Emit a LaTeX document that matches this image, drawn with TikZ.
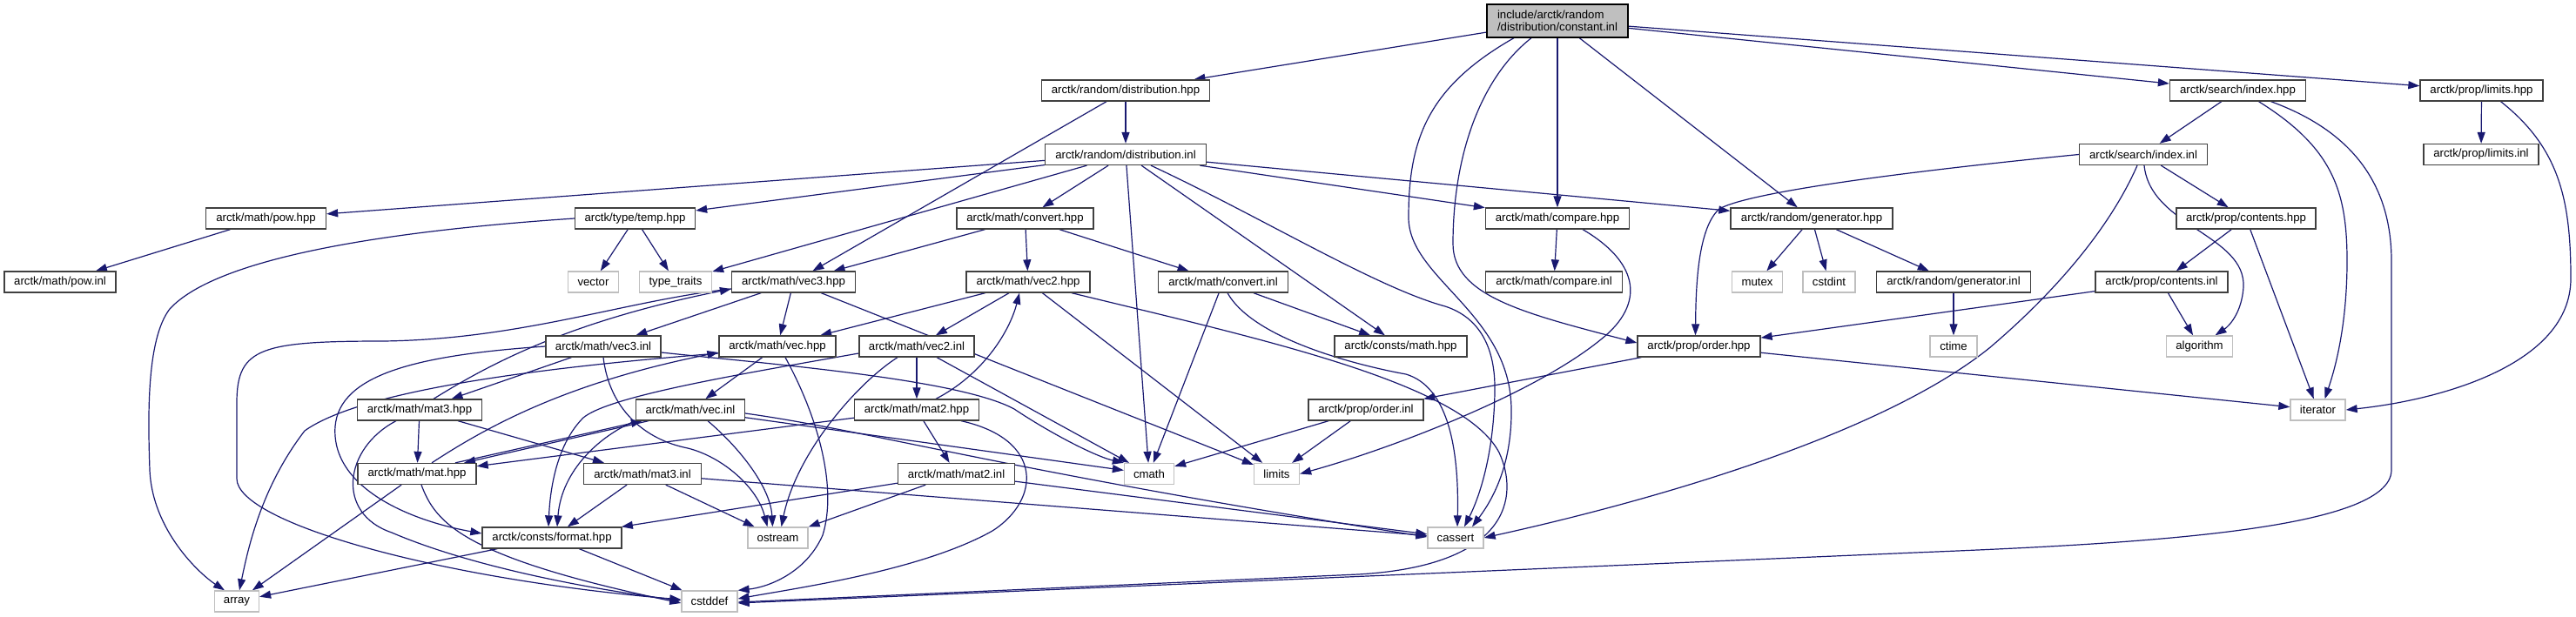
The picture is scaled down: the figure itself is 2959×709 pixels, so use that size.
\documentclass[tikz,border=0pt]{standalone}
\usepackage{fontspec}
\setmainfont{Liberation Sans}
\usetikzlibrary{arrows.meta}
\definecolor{edgec}{HTML}{191970}
\definecolor{gline}{HTML}{BFBFBF}
\definecolor{nline}{HTML}{404040}
\definecolor{rootfill}{HTML}{BFBFBF}
\pgfdeclarelayer{bg}
\pgfsetlayers{bg,main}
\tikzset{
  nb/.style={draw=nline, line width=1.3pt, fill=white, minimum height=24pt, inner sep=0pt,
    font=\fontsize{13.2}{13.6}\selectfont, text=black},
  ng/.style={nb, draw=gline},
  e/.style={draw=edgec, line width=1.2pt, -{Triangle[length=13pt,width=9pt]}},
}
\begin{document}
\begin{tikzpicture}[x=1pt,y=-1pt]
\path[use as bounding box] (0,0) rectangle (2959,709);
% nodes
\node[nb, draw=black, fill=rootfill, minimum width=162pt, minimum height=38pt, align=left] (root) at (1789,24) {include/arctk/random\\/distribution/constant.inl};
\node[nb, minimum width=193pt] (dhpp) at (1293,104) {arctk/random/distribution.hpp};
\node[nb, minimum width=185pt] (dinl) at (1293,177.5) {arctk/random/distribution.inl};
\node[nb, minimum width=156pt] (idxh) at (2570.5,104) {arctk/search/index.hpp};
\node[nb, minimum width=141pt] (limh) at (2850.5,104) {arctk/prop/limits.hpp};
\node[nb, minimum width=147pt] (idxi) at (2462,177.5) {arctk/search/index.inl};
\node[nb, minimum width=132pt] (limi) at (2850,177.5) {arctk/prop/limits.inl};
\node[nb, minimum width=138pt] (pow) at (305.5,251) {arctk/math/pow.hpp};
\node[nb, minimum width=138pt] (temp) at (729.5,251) {arctk/type/temp.hpp};
\node[nb, minimum width=157pt] (conv) at (1177.5,251) {arctk/math/convert.hpp};
\node[nb, minimum width=165pt] (cmph) at (1789,251) {arctk/math/compare.hpp};
\node[nb, minimum width=186pt] (genh) at (2081,251) {arctk/random/generator.hpp};
\node[nb, minimum width=160pt] (conth) at (2580,251) {arctk/prop/contents.hpp};
\node[nb, minimum width=128pt] (powi) at (69,324) {arctk/math/pow.inl};
\node[ng, minimum width=58pt] (vector) at (681.5,324) {vector};
\node[ng, minimum width=83pt] (tt) at (776,324) {type\_traits};
\node[nb, minimum width=142pt] (v3h) at (911.5,324) {arctk/math/vec3.hpp};
\node[nb, minimum width=142pt] (v2h) at (1181,324) {arctk/math/vec2.hpp};
\node[nb, minimum width=149pt] (convi) at (1405,324) {arctk/math/convert.inl};
\node[nb, minimum width=157pt] (cmpi) at (1785,324) {arctk/math/compare.inl};
\node[ng, minimum width=58pt] (mutex) at (2018.5,324) {mutex};
\node[ng, minimum width=60pt] (cstdint) at (2101,324) {cstdint};
\node[nb, minimum width=177pt] (geni) at (2244,324) {arctk/random/generator.inl};
\node[nb, minimum width=152pt] (conti) at (2483,324) {arctk/prop/contents.inl};
\node[nb, minimum width=132pt] (v3i) at (693,398) {arctk/math/vec3.inl};
\node[nb, minimum width=134pt] (vh) at (893,398) {arctk/math/vec.hpp};
\node[nb, minimum width=132pt] (v2i) at (1053,398) {arctk/math/vec2.inl};
\node[nb, minimum width=152pt] (cmh) at (1609,398) {arctk/consts/math.hpp};
\node[nb, minimum width=141pt] (ordh) at (1951.5,398) {arctk/prop/order.hpp};
\node[ng, minimum width=54pt] (ctime) at (2244,398) {ctime};
\node[ng, minimum width=76pt] (algo) at (2526.5,398) {algorithm};
\node[nb, minimum width=143pt] (m3h) at (482,471) {arctk/math/mat3.hpp};
\node[nb, minimum width=125pt] (vi) at (793,471) {arctk/math/vec.inl};
\node[nb, minimum width=143pt] (m2h) at (1053,471) {arctk/math/mat2.hpp};
\node[nb, minimum width=132pt] (ordi) at (1569,471) {arctk/prop/order.inl};
\node[ng, minimum width=63pt] (iter) at (2662.5,471) {iterator};
\node[nb, minimum width=136pt] (mh) at (479,544.5) {arctk/math/mat.hpp};
\node[nb, minimum width=135pt] (m3i) at (738,544.5) {arctk/math/mat3.inl};
\node[nb, minimum width=134pt] (m2i) at (1098.5,544.5) {arctk/math/mat2.inl};
\node[ng, minimum width=57pt] (cmath) at (1320,544.5) {cmath};
\node[ng, minimum width=52pt] (limits) at (1466.5,544.5) {limits};
\node[nb, minimum width=160pt] (fmt) at (634,618) {arctk/consts/format.hpp};
\node[ng, minimum width=69pt] (ostream) at (893.5,618) {ostream};
\node[ng, minimum width=64pt] (cassert) at (1672,618) {cassert};
\node[ng, minimum width=51pt] (array) at (272,691) {array};
\node[ng, minimum width=64pt] (cstddef) at (815,691) {cstddef};

\begin{pgfonlayer}{bg}
\fill[white] (0,0) rectangle (2959,709);
% root
\draw[e] (root) -- (dhpp);
\draw[e] (root) -- (cmph);
\draw[e] (root) -- (genh);
\draw[e] (root) -- (idxh);
\draw[e] (root) -- (limh);
\draw[e] ([xshift=-50pt]root.south) .. controls (1640,100) and (1618,160) .. (1618,250) .. controls (1618,320) and (1735,360) .. (1736,470) .. controls (1737,540) and (1710,580) .. ([xshift=19pt]cassert.north);
\draw[e] ([xshift=-30pt]root.south) .. controls (1700,90) and (1669,180) .. (1669,280) .. controls (1669,340) and (1750,360) .. ([yshift=4pt]ordh.west);
% distribution
\draw[e] (dhpp) -- (dinl);
\draw[e] (dhpp) -- (v3h);
\draw[e] (dinl) -- (pow);
\draw[e] (dinl) -- (temp);
\draw[e] (dinl) -- (tt);
\draw[e] (dinl) -- (conv);
\draw[e] (dinl) -- (cmath);
\draw[e] (dinl) -- (cmh);
\draw[e] (dinl) -- (cmph);
\draw[e] (dinl) -- (genh);
\draw[e] ([xshift=29pt]dinl.south) .. controls (1450,250) and (1580,330) .. (1660,352) .. controls (1700,365) and (1718,400) .. (1717,450) .. controls (1716,520) and (1700,570) .. ([xshift=10pt]cassert.north);
% convert
\draw[e] (conv) -- (v3h);
\draw[e] (conv) -- (v2h);
\draw[e] (conv) -- (convi);
\draw[e] (convi) -- (cmh);
\draw[e] (convi) -- (cmath);
\draw[e] ([xshift=5pt]convi.south) .. controls (1440,390) and (1560,420) .. (1615,430) .. controls (1665,445) and (1676,520) .. ([xshift=2pt]cassert.north);
% compare
\draw[e] (cmph) -- (cmpi);
\draw[e] ([xshift=29pt]cmph.south) .. controls (1880,300) and (1890,345) .. (1845,385) .. controls (1770,450) and (1600,515) .. (limits.east);
% generator
\draw[e] (genh) -- (mutex);
\draw[e] (genh) -- (cstdint);
\draw[e] (genh) -- (geni);
\draw[e] (geni) -- (ctime);
% search / prop
\draw[e] (idxh) -- (idxi);
\draw[e] ([xshift=24pt]idxh.south) .. controls (2680,170) and (2696,220) .. (2696,300) .. controls (2696,380) and (2680,430) .. ([xshift=8pt]iter.north);
\draw[e] ([xshift=38pt]idxh.south) .. controls (2700,150) and (2747,210) .. (2747,300) -- (2747,540) .. controls (2747,610) and (2450,625) .. (2200,635) -- ([yshift=-2pt]cstddef.east);
\draw[e] (limh) -- (limi);
\draw[e] ([xshift=22pt]limh.south) .. controls (2940,170) and (2953,230) .. (2953,320) .. controls (2953,420) and (2800,460) .. (iter.east);
\draw[e] (idxi) -- (conth);
\draw[e] (idxi.west) .. controls (2200,196) and (2010,220) .. (1975,240) .. controls (1950,262) and (1948,330) .. ([xshift=-4pt]ordh.north);
\draw[e] ([xshift=1pt]idxi.south) .. controls (2470,260) and (2580,270) .. (2577,330) .. controls (2575,360) and (2560,375) .. ([xshift=18pt]algo.north);
\draw[e] ([xshift=-7pt]idxi.south) .. controls (2420,270) and (2350,345) .. (2285,400) .. controls (2160,500) and (1900,575) .. (cassert.east);
\draw[e] (conth) -- (conti);
\draw[e] (conth) -- (iter);
\draw[e] (conti) -- (ordh);
\draw[e] (conti) -- (algo);
\draw[e] (ordh) -- (ordi);
\draw[e] (ordh) -- (iter);
\draw[e] (ordi) -- (cmath);
\draw[e] (ordi) -- (limits);
% pow / temp
\draw[e] (pow) -- (powi);
\draw[e] (temp) -- (vector);
\draw[e] (temp) -- (tt);
\draw[e] (temp.west) .. controls (450,265) and (250,295) .. (195,355) .. controls (168,390) and (170,480) .. (172,540) .. controls (175,610) and (230,660) .. ([xshift=-14pt]array.north);
% vec3
\draw[e] (v3h) -- (vh);
\draw[e] (v3h) -- (v3i);
\draw[e] (v3h) -- (limits);
\draw[e] ([yshift=-8pt]v3h.west) .. controls (720,345) and (600,390) .. (440,392) .. controls (300,392) and (273,400) .. (272,460) -- (272,550) .. controls (272,600) and (500,665) .. ([yshift=2pt]cstddef.west);
\draw[e] (v3i) -- (m3h);
\draw[e] (v3i.west) .. controls (480,408) and (390,430) .. (385,490) .. controls (380,560) and (470,598) .. ([yshift=5pt]fmt.west);
\draw[e] ([yshift=-7pt]v3i.east) .. controls (880,418) and (1100,435) .. (1165,470) .. controls (1210,500) and (1260,525) .. (cmath.north west);
\draw[e] (v3i.south) .. controls (700,470) and (740,505) .. (790,515) .. controls (830,525) and (870,560) .. ([xshift=-12pt]ostream.north);
% vec
\draw[e] (vh) -- (vi);
\draw[e] ([yshift=-8pt]vh.west) .. controls (650,420) and (420,445) .. (350,495) .. controls (300,560) and (285,630) .. ([xshift=3pt]array.north);
\draw[e] ([xshift=9pt]vh.south) .. controls (940,480) and (962,560) .. (945,615) .. controls (925,660) and (880,675) .. (cstddef.north east);
% vec2
\draw[e] (v2h) -- (vh);
\draw[e] (v2h) -- (v2i);
\draw[e] (v2h) -- (limits);
\draw[e] ([xshift=50pt]v2h.south) .. controls (1450,390) and (1680,440) .. (1722,520) .. controls (1745,570) and (1735,650) .. (1560,660) -- ([yshift=-1pt]cstddef.east);
\draw[e] (v2i) -- (m2h);
\draw[e] (v2i) -- (cmath);
\draw[e] ([xshift=-22pt]v2i.south) .. controls (985,440) and (915,520) .. ([xshift=4pt]ostream.north);
\draw[e] ([yshift=-8pt]v2i.west) .. controls (850,430) and (700,455) .. (670,480) .. controls (640,510) and (632,560) .. ([xshift=-4pt]fmt.north);
% vec.inl
\draw[e] ([xshift=-48pt]vi.south) -- ([xshift=54pt]mh.north);
\draw[e] (vi.south west) .. controls (690,500) and (645,540) .. ([xshift=6pt]fmt.north);
\draw[e] ([xshift=20pt]vi.south) .. controls (850,515) and (885,560) .. ([xshift=-6pt]ostream.north);
\draw[e] (vi) -- (cmath);
\draw[e] ([yshift=-4pt]vi.east) .. controls (1000,495) and (1150,540) .. ([yshift=1pt]cassert.west);
% mat3 / mat
\draw[e] (m3h) -- (mh);
\draw[e] (m3h) -- (m3i);
\draw[e] ([xshift=16pt]m3h.north) .. controls (560,420) and (650,370) .. ([yshift=-8pt]v3h.west);
\draw[e] ([xshift=-27pt]m3h.south) .. controls (395,515) and (385,590) .. (450,612) .. controls (550,655) and (700,680) .. ([yshift=1pt]cstddef.west);
\draw[e] ([xshift=44pt]mh.north) -- ([xshift=-55pt]vi.south);
\draw[e] ([xshift=17pt]mh.north) .. controls (560,490) and (650,440) .. ([yshift=-7pt]vh.west);
\draw[e] (mh) -- (array);
\draw[e] ([xshift=5pt]mh.south) .. controls (500,600) and (530,640) .. ([yshift=-2pt]cstddef.west);
\draw[e] (m3i) -- (fmt);
\draw[e] (m3i) -- (ostream);
\draw[e] (m3i) -- (cassert);
% mat2
\draw[e] (m2h) -- (m2i);
\draw[e] (m2h) -- (mh);
\draw[e] ([xshift=22pt]m2h.north) .. controls (1130,430) and (1160,380) .. ([xshift=-10pt]v2h.south);
\draw[e] ([xshift=51pt]m2h.south) .. controls (1200,505) and (1195,575) .. (1140,610) .. controls (1060,655) and (920,675) .. ([yshift=3pt]cstddef.east);
\draw[e] (m2i) -- (fmt);
\draw[e] (m2i) -- (ostream);
\draw[e] (m2i) -- (cassert);
% format
\draw[e] (fmt) -- (array);
\draw[e] (fmt) -- (cstddef);
\end{pgfonlayer}
\end{tikzpicture}
\end{document}
